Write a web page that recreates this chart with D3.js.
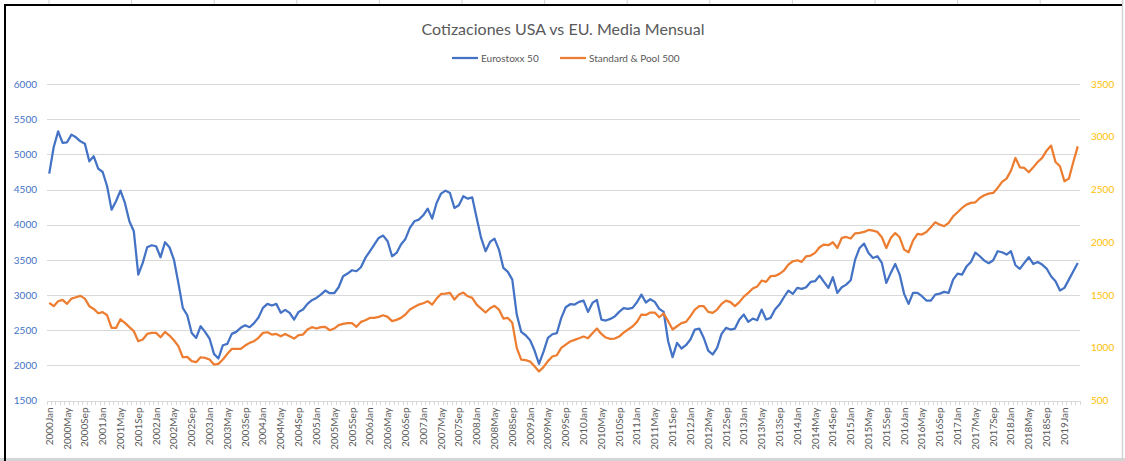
<!DOCTYPE html>
<meta charset="utf-8">
<style>
body {
  margin: 0;
  background-color: #ffffff;
}
text {
  font-family: 'Lato', 'DejaVu Sans', sans-serif;
}
.title {
  font-size: 16px;
  fill: #595959;
}
.legend text {
  font-size: 10px;
  fill: #595959;
}
.grid line {
  stroke: #D9D9D9;
  stroke-width: 1px;
  shape-rendering: crispEdges;
}
.grid path {
  display: none;
}
.y-left text {
  fill: #4472C4;
  font-size: 10px;
}
.y-right text {
  fill: #FFC000;
  font-size: 10px;
}
.x-axis text {
  fill: #595959;
  font-size: 10px;
}
.x-axis path,
.x-axis line {
  stroke: #D9D9D9;
  shape-rendering: crispEdges;
}
.line {
  fill: none;
  stroke-width: 2.25px;
  stroke-linejoin: round;
}
</style>
<svg width="1125" height="461"></svg>
<script src="https://d3js.org/d3.v7.min.js"></script>
<script>
var years = [2000, 2001, 2002, 2003, 2004, 2005, 2006, 2007, 2008, 2009,
             2010, 2011, 2012, 2013, 2014, 2015, 2016, 2017, 2018, 2019];
var monthNames = ["Jan", "Feb", "Mar", "Apr", "May", "Jun", "Jul", "Aug", "Sep", "Oct", "Nov", "Dec"];
var lastMonthIndex = 231; // 2019Apr

var leftTicks = [1500, 2000, 2500, 3000, 3500, 4000, 4500, 5000, 5500, 6000];
var rightTicks = [500, 1000, 1500, 2000, 2500, 3000, 3500];

var seriesNames = ["Eurostoxx 50", "Standard & Pool 500"];
var seriesColors = ["#4472C4", "#ED7D31"];

var eurostoxx = [
  4726, 5100, 5327, 5162, 5171, 5280, 5242, 5185, 5152, 4901, 4972, 4797,
  4749, 4546, 4214, 4333, 4484, 4309, 4048, 3906, 3290, 3456, 3679, 3707,
  3693, 3537, 3750, 3679, 3504, 3172, 2817, 2712, 2461, 2390, 2556, 2476,
  2381, 2163, 2097, 2286, 2305, 2447, 2476, 2533, 2570, 2542, 2600, 2680,
  2817, 2874, 2850, 2874, 2746, 2788, 2746, 2651, 2760, 2793, 2874, 2926,
  2959, 3006, 3063, 3025, 3025, 3110, 3267, 3305, 3352, 3338, 3395, 3527,
  3622, 3717, 3812, 3845, 3764, 3551, 3598, 3717, 3797, 3954, 4048, 4072,
  4133, 4228, 4086, 4309, 4442, 4484, 4451, 4238, 4276, 4404, 4370, 4389,
  4096, 3812, 3622, 3755, 3802, 3646, 3385, 3328, 3219, 2722, 2476, 2428,
  2357, 2210, 2021, 2191, 2390, 2442, 2457, 2675, 2826, 2869, 2864, 2902,
  2921, 2760, 2888, 2930, 2651, 2637, 2660, 2693, 2760, 2812, 2802, 2817,
  2897, 3006, 2893, 2940, 2902, 2802, 2760, 2343, 2116, 2319, 2239, 2286,
  2367, 2509, 2523, 2390, 2210, 2154, 2248, 2447, 2533, 2509, 2523, 2651,
  2722, 2618, 2665, 2641, 2793, 2651, 2675, 2793, 2864, 2968, 3063, 3016,
  3101, 3087, 3110, 3186, 3196, 3276, 3186, 3101, 3253, 3030, 3110, 3148,
  3210, 3504, 3669, 3731, 3598, 3527, 3551, 3456, 3172, 3314, 3442, 3290,
  3016, 2874, 3030, 3030, 2983, 2921, 2921, 3006, 3020, 3044, 3030, 3219,
  3305, 3290, 3404, 3470, 3603, 3551, 3489, 3452, 3494, 3622, 3608, 3575,
  3622, 3423, 3371, 3456, 3537, 3442, 3470, 3433, 3376, 3267, 3196, 3063,
  3101, 3219, 3338, 3456
];

var sp500 = [
  1425, 1394, 1441, 1454, 1416, 1466, 1479, 1492, 1466, 1394, 1368, 1327,
  1337, 1308, 1188, 1188, 1270, 1236, 1195, 1157, 1062, 1078, 1131, 1141,
  1141, 1100, 1150, 1116, 1071, 1015, 910, 914, 873, 863, 910, 904,
  888, 841, 847, 888, 942, 989, 989, 989, 1021, 1046, 1062, 1094,
  1141, 1147, 1125, 1131, 1109, 1131, 1109, 1087, 1119, 1125, 1173, 1195,
  1182, 1195, 1198, 1166, 1182, 1214, 1226, 1233, 1233, 1198, 1245, 1261,
  1283, 1283, 1293, 1308, 1293, 1252, 1264, 1283, 1315, 1362, 1387, 1409,
  1422, 1441, 1409, 1466, 1510, 1514, 1520, 1457, 1504, 1523, 1488, 1473,
  1409, 1371, 1334, 1375, 1397, 1362, 1277, 1283, 1236, 999, 888, 882,
  869, 825, 775, 816, 873, 917, 929, 999, 1030, 1059, 1075, 1090,
  1106, 1090, 1138, 1182, 1131, 1097, 1084, 1087, 1106, 1144, 1173, 1201,
  1245, 1315, 1311, 1334, 1334, 1289, 1325, 1252, 1173, 1204, 1233, 1245,
  1299, 1362, 1394, 1394, 1340, 1330, 1362, 1416, 1447, 1432, 1394, 1432,
  1485, 1520, 1561, 1580, 1637, 1624, 1678, 1681, 1700, 1732, 1788, 1820,
  1829, 1814, 1867, 1874, 1899, 1953, 1978, 1972, 2000, 1946, 2041, 2050,
  2035, 2085, 2088, 2098, 2117, 2110, 2098, 2047, 1946, 2041, 2088, 2047,
  1930, 1905, 2016, 2079, 2073, 2098, 2142, 2189, 2167, 2152, 2183, 2246,
  2284, 2325, 2357, 2373, 2379, 2420, 2445, 2461, 2467, 2515, 2572, 2603,
  2679, 2799, 2710, 2704, 2663, 2710, 2761, 2799, 2868, 2916, 2761, 2720,
  2578, 2603, 2761, 2909
];

// category labels: 2000Jan ... 2019Apr
var categories = [];
years.forEach(function(y) {
  monthNames.forEach(function(m) { categories.push(y + m); });
});
categories = categories.slice(0, lastMonthIndex + 1);

var svg = d3.select("svg"),
    plot = {left: 47, right: 1080, top: 84, bottom: 400.5};

// frame
svg.append("rect").attr("width", 1125).attr("height", 461).attr("fill", "#fff");
svg.append("line").attr("x1", 0).attr("x2", 1125).attr("y1", 459.5).attr("y2", 459.5)
    .attr("stroke", "#D4D4D4").attr("stroke-width", 3);
svg.append("line").attr("x1", 1122.5).attr("x2", 1122.5).attr("y1", 0).attr("y2", 461)
    .attr("stroke", "#D4D4D4").attr("stroke-width", 1.5);
d3.range(49, 1125, 82.6).forEach(function(cx) {
  svg.append("line").attr("x1", cx).attr("x2", cx).attr("y1", 0).attr("y2", 4)
      .attr("stroke", "#D4D4D4");
});
svg.append("line").attr("x1", 4).attr("x2", 1122).attr("y1", 5).attr("y2", 5)
    .attr("stroke", "#000").attr("stroke-width", 2);
svg.append("line").attr("x1", 5).attr("x2", 5).attr("y1", 4).attr("y2", 461)
    .attr("stroke", "#000").attr("stroke-width", 2);

var x = d3.scaleBand().domain(categories).range([plot.left, plot.right]).paddingInner(0).paddingOuter(0);
var yL = d3.scaleLinear().domain([1500, 6000]).range([plot.bottom, plot.top]);
var yR = d3.scaleLinear().domain([500, 3500]).range([plot.bottom, plot.top]);

function cx(d) { return x(d) + x.bandwidth() / 2; }

// gridlines
svg.append("g")
    .attr("class", "grid")
    .attr("transform", "translate(" + plot.left + ",0)")
    .call(d3.axisLeft(yL).tickValues(leftTicks.slice(1)).tickSize(-(plot.right - plot.left)).tickFormat(""));

// left axis
svg.append("g")
    .attr("class", "y-left")
    .attr("transform", "translate(" + (plot.left - 10) + ",0)")
    .call(d3.axisLeft(yL).tickValues(leftTicks).tickSize(0).tickPadding(0).tickFormat(d3.format("d")))
    .call(function(g) { g.select(".domain").remove(); });

// right axis
svg.append("g")
    .attr("class", "y-right")
    .attr("transform", "translate(" + (plot.right + 11) + ",0)")
    .call(d3.axisRight(yR).tickValues(rightTicks).tickSize(0).tickPadding(0).tickFormat(d3.format("d")))
    .call(function(g) { g.select(".domain").remove(); });

// x axis
var xAxis = svg.append("g")
    .attr("class", "x-axis")
    .attr("transform", "translate(0," + plot.bottom + ")");
xAxis.append("line")
    .attr("x1", plot.left).attr("x2", plot.right).attr("y1", 0.5).attr("y2", 0.5);
xAxis.selectAll(".tick-mark")
    .data(categories.concat(["end"]))
  .enter().append("line")
    .attr("class", "tick-mark")
    .attr("x1", function(d, i) { return plot.left + i * x.bandwidth(); })
    .attr("x2", function(d, i) { return plot.left + i * x.bandwidth(); })
    .attr("y1", 0.5).attr("y2", 4);
xAxis.selectAll(".xlabel")
    .data(categories.filter(function(d, i) { return i % 4 === 0; }))
  .enter().append("text")
    .attr("class", "xlabel")
    .attr("text-anchor", "end")
    .attr("transform", function(d) { return "translate(" + (cx(d) + 3.5) + ",7) rotate(-90)"; })
    .text(function(d) { return d; });

// lines
var lineL = d3.line().x(function(d, i) { return cx(categories[i]); }).y(function(d) { return yL(d); });
var lineR = d3.line().x(function(d, i) { return cx(categories[i]); }).y(function(d) { return yR(d); });

svg.append("path").datum(eurostoxx).attr("class", "line")
    .attr("stroke", seriesColors[0]).attr("d", lineL);
svg.append("path").datum(sp500).attr("class", "line")
    .attr("stroke", seriesColors[1]).attr("d", lineR);

// title
svg.append("text")
    .attr("class", "title")
    .attr("x", 563).attr("y", 35)
    .attr("text-anchor", "middle")
    .text("Cotizaciones USA vs EU. Media Mensual");

// legend
var legendX = [452, 560];
var legend = svg.append("g").attr("class", "legend");
seriesNames.forEach(function(name, i) {
  legend.append("line")
      .attr("x1", legendX[i]).attr("x2", legendX[i] + 26)
      .attr("y1", 58).attr("y2", 58)
      .attr("stroke", seriesColors[i]).attr("stroke-width", 2.25);
  legend.append("text")
      .attr("x", legendX[i] + 29).attr("y", 61.5)
      .text(name);
});
</script>
